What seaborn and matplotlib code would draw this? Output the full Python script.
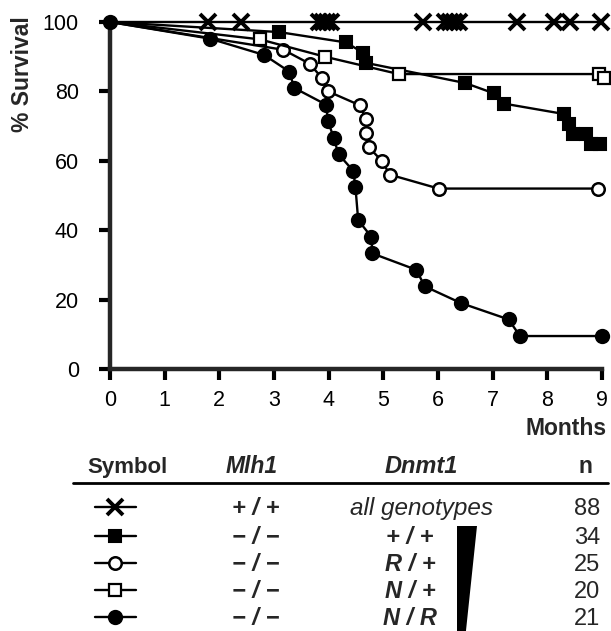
import matplotlib
matplotlib.use("Agg")
import matplotlib.pyplot as plt
import seaborn as sns
from matplotlib.lines import Line2D
from matplotlib.patches import Polygon

# Settings
sns.set_style("ticks")
plt.rcParams["font.family"] = ["Liberation Sans", "DejaVu Sans"]

# Survival data (months, % survival)
months_wt = [0, 1.79, 2.40, 3.82, 3.90, 3.97, 4.05, 5.72, 6.12, 6.22, 6.30, 6.38, 7.44, 8.12, 8.41, 8.98]
surv_wt = [100, 100, 100, 100, 100, 100, 100, 100, 100, 100, 100, 100, 100, 100, 100, 100]

months_pp = [0, 3.09, 4.32, 4.62, 4.69, 6.50, 7.03, 7.20, 8.30, 8.40, 8.47, 8.70, 8.80, 8.96]
surv_pp = [100, 97.1, 94.1, 91.2, 88.2, 82.4, 79.4, 76.5, 73.5, 70.6, 67.6, 67.6, 64.7, 64.7]

months_rp = [0, 3.17, 3.65, 3.87, 3.99, 4.57, 4.68, 4.69, 4.73, 4.97, 5.12, 6.01, 8.93]
surv_rp = [100, 92, 88, 84, 80, 76, 72, 68, 64, 60, 56, 52, 52]

months_np = [0, 2.74, 3.93, 5.28, 8.95, 9.03]
surv_np = [100, 95, 90, 85, 85, 84]

months_nr = [0, 1.83, 2.82, 3.28, 3.37, 3.95, 3.99, 4.09, 4.18, 4.45, 4.49, 4.54, 4.78, 4.80,
             5.60, 5.76, 6.42, 7.29, 7.50, 9.0]
surv_nr = [100, 95.2, 90.5, 85.7, 81.0, 76.2, 71.4, 66.7, 61.9, 57.1, 52.4, 42.9, 38.1, 33.3,
           28.6, 23.8, 19.0, 14.3, 9.5, 9.5]

# Table
mlh1 = ["+ / +", "\u2212 / \u2212", "\u2212 / \u2212", "\u2212 / \u2212", "\u2212 / \u2212"]
dnmt1 = ["all genotypes", "+ / +", "R / +", "N / +", "N / R"]
n_mice = ["88", "34", "25", "20", "21"]

x_ticks = [0, 1, 2, 3, 4, 5, 6, 7, 8, 9]
y_ticks = [0, 20, 40, 60, 80, 100]

# marker styles per row: (marker, size, facecolor, edgewidth)
styles = [("x", 11, "black", 2.8),
          ("s", 9, "black", 1.5),
          ("o", 9, "white", 1.8),
          ("s", 8, "white", 1.6),
          ("o", 9.5, "black", 1.5)]
series = [(months_wt, surv_wt), (months_pp, surv_pp), (months_rp, surv_rp),
          (months_np, surv_np), (months_nr, surv_nr)]

fig = plt.figure(figsize=(6.11, 6.31), dpi=100)
ax = fig.add_axes([110 / 611, 1 - 369 / 631, 492 / 611, 347 / 631])

for i, ((mx, sy), (mk, ms, fc, mew)) in enumerate(zip(series, styles)):
    every = slice(0, None) if i == 4 else slice(1, None)
    sns.lineplot(x=mx, y=sy, ax=ax, color="black", linewidth=1.7, sort=False,
                 estimator=None, marker=mk, markersize=ms, markerfacecolor=fc,
                 markeredgecolor="black", markeredgewidth=mew, markevery=every,
                 clip_on=False, zorder=3 + i)

ax.set_xlim(0, 9)
ax.set_ylim(0, 100)
ax.set_xticks(x_ticks)
ax.set_yticks(y_ticks)
ax.set_xlabel("")
ax.set_ylabel("")
sns.despine(ax=ax)
for s in ["left", "bottom"]:
    ax.spines[s].set_linewidth(3.2)
ax.tick_params(width=3, length=8, labelsize=15.5, colors="black")
ax.tick_params(axis="y", pad=14.5)
ax.tick_params(axis="x", pad=7)

# overlay in pixel coordinates for labels and the table
ov = fig.add_axes([0, 0, 1, 1])
ov.set_xlim(0, 611)
ov.set_ylim(631, 0)
ov.axis("off")

ov.text(23, 74, "% Survival", rotation=90, ha="center", va="center",
        fontsize=16.5, fontweight="bold")
ov.text(607, 435, "Months", ha="right", va="baseline", fontsize=16.5, fontweight="bold")

# table header
ov.text(127, 473, "Symbol", ha="center", va="baseline", fontsize=16, fontweight="bold")
ov.text(252, 473, "Mlh1", ha="center", va="baseline", fontsize=16.5, fontweight="bold", style="italic")
ov.text(421, 473, "Dnmt1", ha="center", va="baseline", fontsize=17, fontweight="bold", style="italic")
ov.text(585, 473, "n", ha="center", va="baseline", fontsize=16.5, fontweight="bold")
ov.add_line(Line2D([73, 608], [483, 483], color="black", linewidth=2))

row_y = [507, 536, 563, 590, 617]
for i, y in enumerate(row_y):
    mk, ms, fc, mew = styles[i]
    ov.add_line(Line2D([95, 136], [y, y], color="black", linewidth=1.7))
    ov.add_line(Line2D([115], [y], marker=mk, markersize=ms, markerfacecolor=fc,
                       markeredgecolor="black", markeredgewidth=mew, linestyle="none"))
    ov.text(256, y + 8, mlh1[i], ha="center", va="baseline", fontsize=17,
            fontweight="bold", style="italic")
    if i == 0:
        ov.text(422, y + 8, dnmt1[i], ha="center", va="baseline", fontsize=17.5, style="italic")
    else:
        ov.text(410, y + 8, dnmt1[i], ha="center", va="baseline", fontsize=17,
                fontweight="bold", style="italic")
    ov.text(587, y + 8, n_mice[i], ha="center", va="baseline", fontsize=17)

# wedge
ov.add_patch(Polygon([[457, 526], [477, 526], [465, 640], [457, 640]], closed=True,
                     facecolor="black", edgecolor="none", clip_on=False))

plt.savefig("out.png", dpi=100)
